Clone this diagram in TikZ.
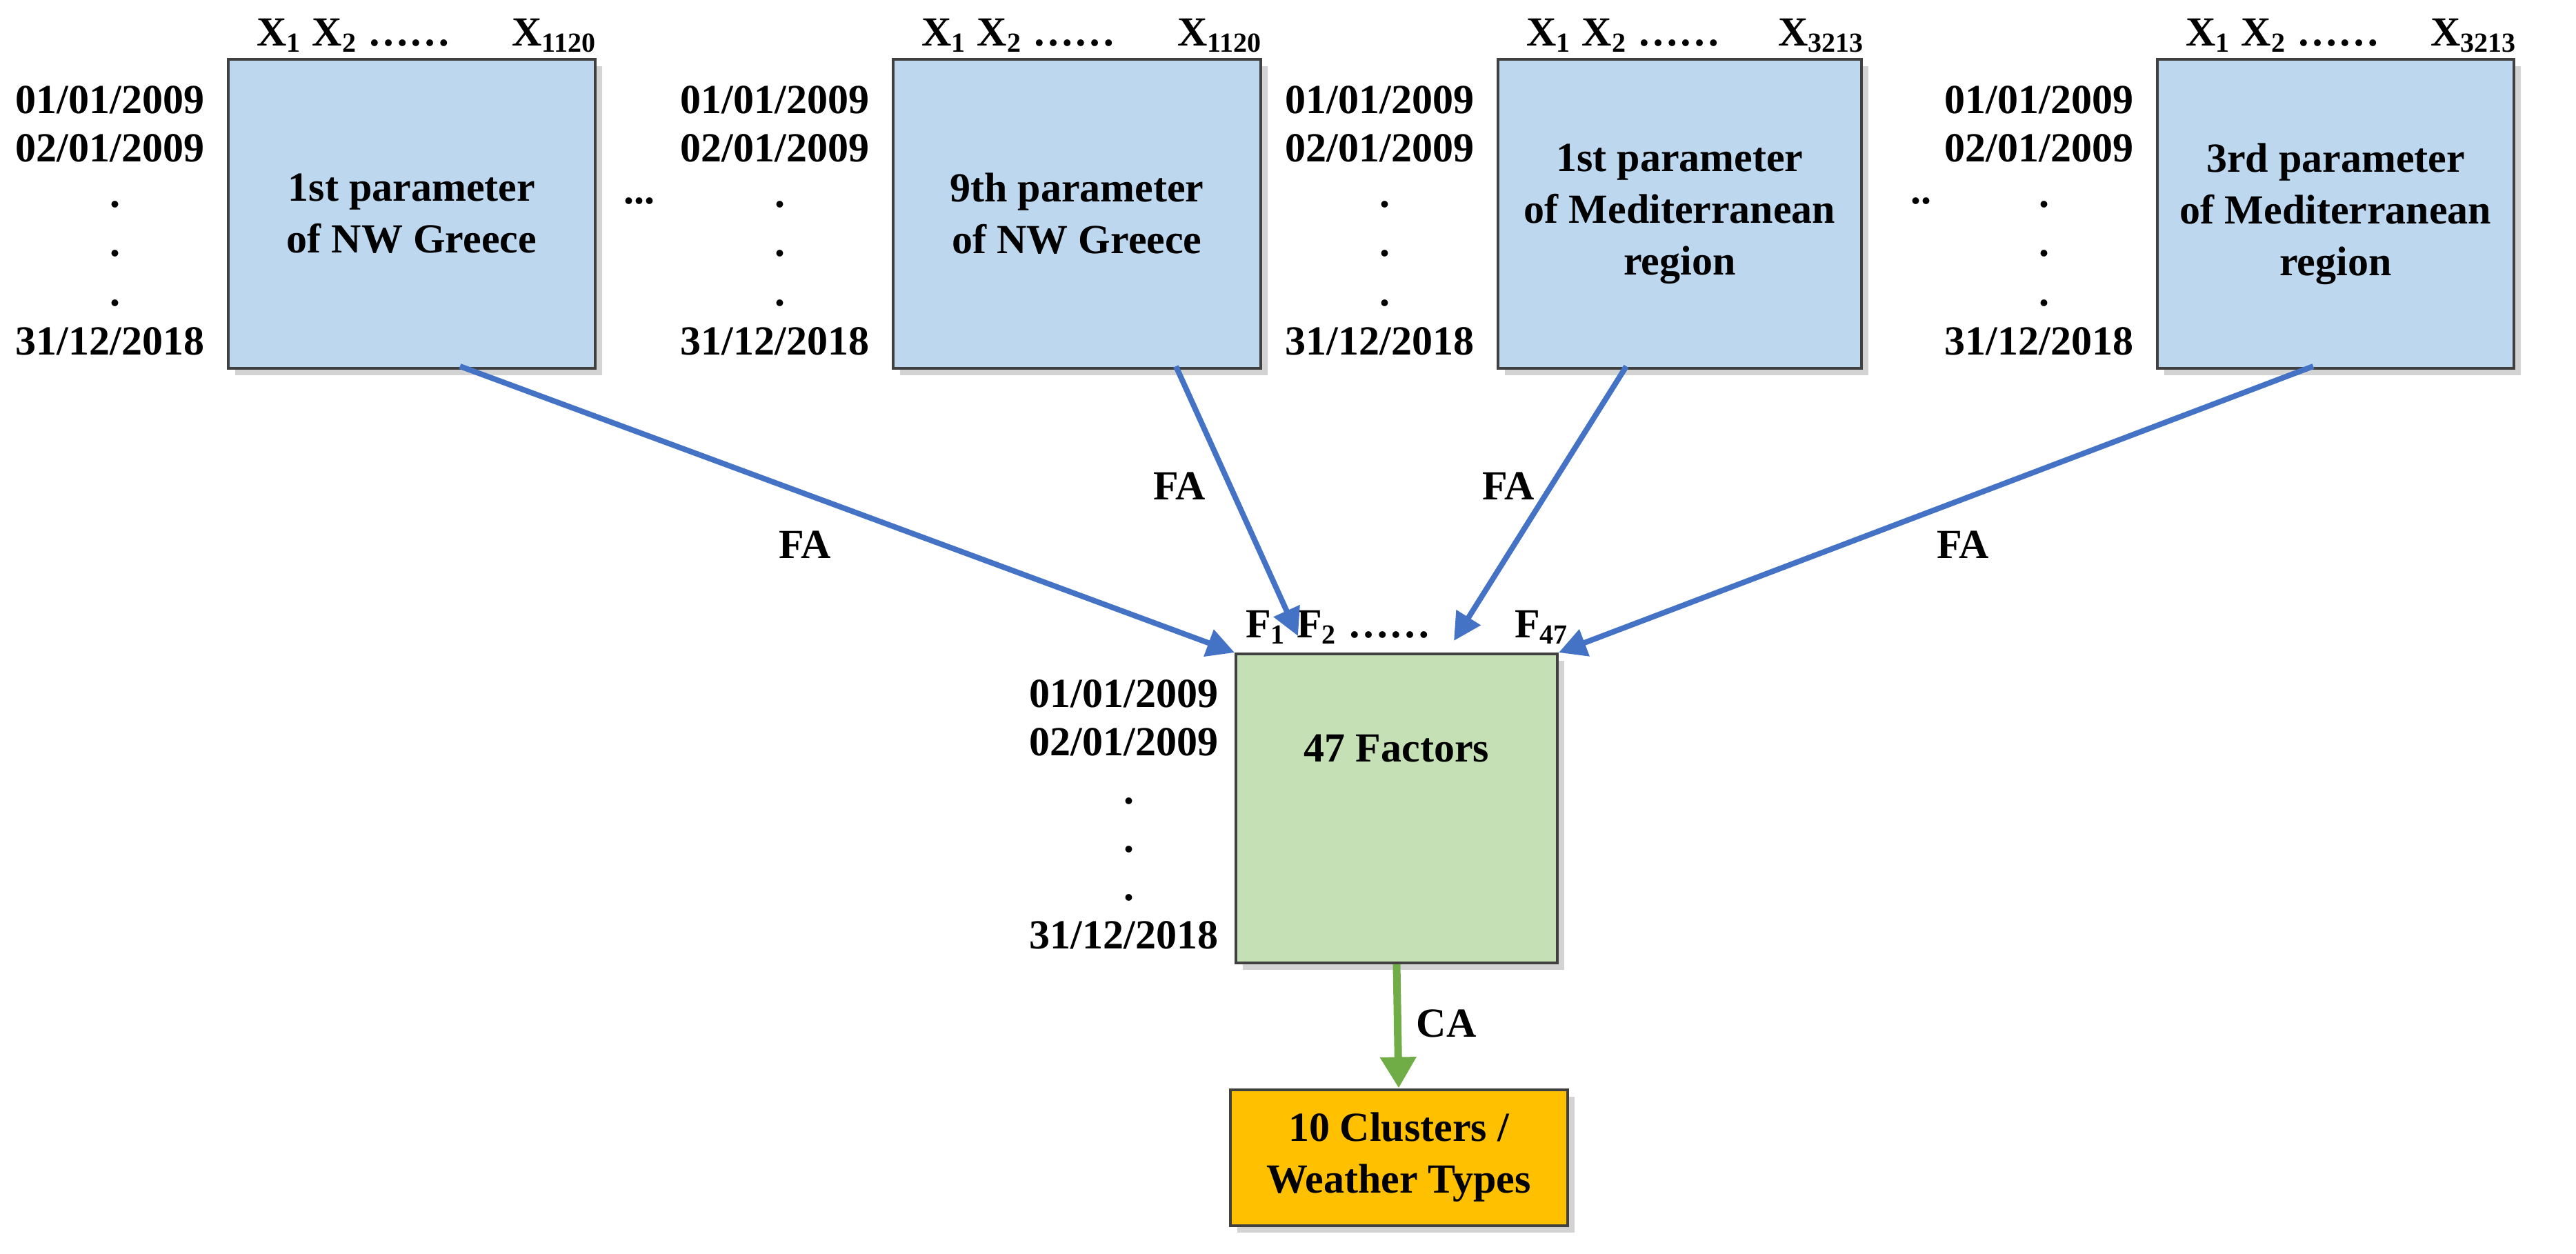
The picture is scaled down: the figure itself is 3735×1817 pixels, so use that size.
\documentclass[tikz,border=0pt]{standalone}
\usepackage{fontspec}
\setmainfont{Liberation Serif}
\usetikzlibrary{shadows,arrows.meta}
\definecolor{bfill}{HTML}{BDD7EE}
\definecolor{gfill}{HTML}{C5E0B4}
\definecolor{ofill}{HTML}{FFC000}
\definecolor{barrow}{HTML}{4472C4}
\definecolor{garrow}{HTML}{70AD47}
\begin{document}
\begin{tikzpicture}[x=0.2pt,y=-0.2pt,
  font=\fontsize{12}{14}\selectfont\bfseries,
  box/.style={draw=black!75,line width=0.8pt,drop shadow={shadow xshift=2pt,shadow yshift=-2pt,opacity=0.35},align=center},
  lbl/.style={inner sep=0pt,anchor=base east},
  dot/.style={inner sep=0pt,anchor=base},
  hdr/.style={inner sep=0pt,anchor=base west},
  fa/.style={draw=barrow,line width=1.6pt,-{Triangle[length=8pt,width=8pt]}},
  txt/.style={inner sep=0pt,align=center,font=\fontsize{12}{15}\selectfont\bfseries}]
\useasboundingbox (0,0) rectangle (3735,1817);
% parameter boxes
\foreach \n/\xl/\xr/\sub in {1/331/863/1120, 2/1295/1828/1120, 3/2172/2699/3213, 4/3128/3645/3213}{
  \node[box,fill=bfill,minimum width={(\xr-\xl)*0.2pt},minimum height={448*0.2pt}] (b\n) at ({(\xl+\xr)/2},310) {};
  \node[lbl] (d1\n) at (\xl-34,164) {01/01/2009};
  \node[lbl] (d2\n) at (\xl-34,234) {02/01/2009};
  \node[dot] (p1\n) at (\xl-164,300) {.};
  \node[dot] (p2\n) at (\xl-164,371) {.};
  \node[dot] (p3\n) at (\xl-164,443) {.};
  \node[lbl] (d3\n) at (\xl-34,514) {31/12/2018};
  \node[hdr] (xa\n) at (\xl+40,66) {X\textsubscript{1} X\textsubscript{2} \ldots\ldots};
  \node[hdr] (xb\n) at (\xr-122,66) {X\textsubscript{\sub}};
}
\node[txt] (t1) at (b1) {1st parameter\\of NW Greece};
\node[txt] (t2) at (b2) {9th parameter\\of NW Greece};
\node[txt] (t3) at (b3) {1st parameter\\of Mediterranean\\region};
\node[txt] (t4) at (b4) {3rd parameter\\of Mediterranean\\region};
\node[dot] (e1) at (927,295) {...};
\node[dot] (e2) at (2785,295) {..};
% factors box
\node[box,fill=gfill,minimum width={466*0.2pt},minimum height={448*0.2pt}] (g) at (2025,1172) {};
\node[txt] (gt) at (2025,1085) {47 Factors};
\node[lbl] (gd1) at (1767,1025) {01/01/2009};
\node[lbl] (gd2) at (1767,1095) {02/01/2009};
\node[dot] (gp1) at (1637,1165) {.};
\node[dot] (gp2) at (1637,1235) {.};
\node[dot] (gp3) at (1637,1305) {.};
\node[lbl] (gd3) at (1767,1375) {31/12/2018};
\node[hdr] (f1) at (1805,924) {F\textsubscript{1} F\textsubscript{2} \ldots\ldots};
\node[hdr] (f47) at (2195,924) {F\textsubscript{47}};
\coordinate (c2) at (1882,922);
\coordinate (c3) at (2108,929);
% clusters
\node[box,fill=ofill,minimum width={489*0.2pt},minimum height={197*0.2pt},font=\fontsize{12}{15}\selectfont\bfseries] (o) at (2028,1678) {10 Clusters /\\Weather Types};
% connectors
\draw[fa] (667,531) -- (g.north west);
\draw[fa] (1705,531) -- (c2);
\draw[fa] (2358,531) -- (c3);
\draw[fa] (3354,531) -- (g.north east);
\draw[draw=garrow,line width=2.2pt,-{Triangle[length=9pt,width=10pt]}] (g.south) -- (o.north);
\node[txt] (fa1) at (1167,790) {FA};
\node[txt] (fa2) at (1710,705) {FA};
\node[txt] (fa3) at (2187,705) {FA};
\node[txt] (fa4) at (2846,790) {FA};
\node[txt] (ca) at (2097,1484) {CA};
\end{tikzpicture}
\end{document}
